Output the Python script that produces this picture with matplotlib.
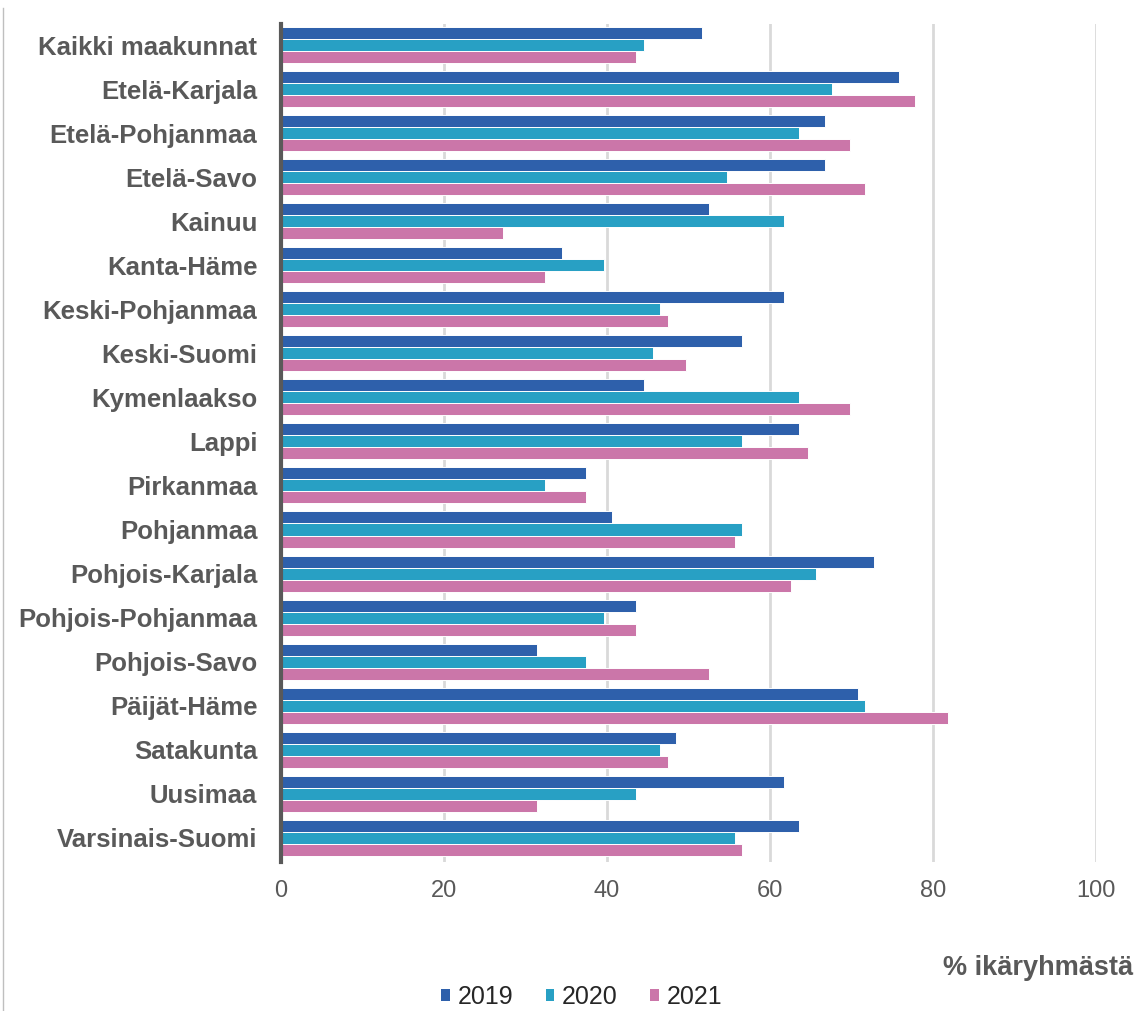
import numpy as np
import matplotlib.pyplot as plt
from matplotlib.lines import Line2D
from matplotlib.patches import Patch
import matplotlib.transforms as mtransforms

plt.rcParams['font.family'] = ['Liberation Sans', 'DejaVu Sans']

# Data
regions = ['Kaikki maakunnat', 'Etelä-Karjala', 'Etelä-Pohjanmaa', 'Etelä-Savo',
           'Kainuu', 'Kanta-Häme', 'Keski-Pohjanmaa', 'Keski-Suomi', 'Kymenlaakso',
           'Lappi', 'Pirkanmaa', 'Pohjanmaa', 'Pohjois-Karjala', 'Pohjois-Pohjanmaa',
           'Pohjois-Savo', 'Päijät-Häme', 'Satakunta', 'Uusimaa', 'Varsinais-Suomi']
vals_2019 = [51.6, 75.8, 66.7, 66.7, 52.5, 34.5, 61.7, 56.6, 44.6, 63.6,
             37.4, 40.6, 72.7, 43.6, 31.4, 70.8, 48.5, 61.7, 63.6]
vals_2020 = [44.6, 67.6, 63.6, 54.7, 61.7, 39.6, 46.5, 45.6, 63.6, 56.6,
             32.4, 56.6, 65.7, 39.6, 37.4, 71.7, 46.5, 43.6, 55.7]
vals_2021 = [43.6, 77.8, 69.8, 71.7, 27.3, 32.4, 47.5, 49.7, 69.8, 64.7,
             37.4, 55.7, 62.6, 43.6, 52.5, 81.8, 47.5, 31.4, 56.6]
years = ['2019', '2020', '2021']
colors = ['#2E60AB', '#28A0C4', '#CB76A9']
x_ticks = [0, 20, 40, 60, 80, 100]

fig = plt.figure(figsize=(11.38, 10.11), dpi=100)
ax = fig.add_axes([0.2469, 0.1474, 0.7162, 0.8289])

y = np.arange(len(regions))
step = 0.273
for i, (vals, col, lab) in enumerate(zip([vals_2019, vals_2020, vals_2021], colors, years)):
    ax.barh(y + (i - 1) * step, vals, height=step, color=col, label=lab,
            edgecolor='white', linewidth=0.7, zorder=3)

ax.set_ylim(len(regions) - 0.45, -0.48)
ax.set_xlim(0, 100)
ax.set_yticks(y)
ax.set_yticklabels(regions, fontsize=18.5, fontweight='bold', color='#595959')
ax.set_xticks(x_ticks)
ax.set_xticklabels([str(t) for t in x_ticks], fontsize=17, color='#595959')
offset = mtransforms.ScaledTranslation(6 / 100, 0, fig.dpi_scale_trans)
for lbl in ax.get_xticklabels():
    lbl.set_transform(lbl.get_transform() + offset)
ax.tick_params(axis='x', length=0, pad=13)
ax.tick_params(axis='y', length=0, pad=17)

ax.grid(axis='x', color='#D9D9D9', linewidth=2, zorder=0)
for s in ['top', 'right', 'bottom']:
    ax.spines[s].set_visible(False)
ax.spines['left'].set_color('#595959')
ax.spines['left'].set_linewidth(3)
ax.spines['left'].set_zorder(4)

fig.text(0.996, 0.043, '% ikäryhmästä', ha='right', va='center',
         fontsize=19.5, fontweight='bold', color='#595959')

handles = [Patch(facecolor=c, edgecolor='none') for c in colors]
fig.legend(handles, years, loc='center', bbox_to_anchor=(0.511, 0.014),
           ncol=3, frameon=False, prop={'size': 18},
           handlelength=0.35, handleheight=0.35, handletextpad=0.3,
           columnspacing=1.3, labelcolor='#262626')

# thin frame line on the left edge
fig.add_artist(Line2D([0.0025, 0.0025], [0.0, 0.992], transform=fig.transFigure,
                      color='#BFBFBF', linewidth=1))

fig.savefig('out.png', dpi=100)
